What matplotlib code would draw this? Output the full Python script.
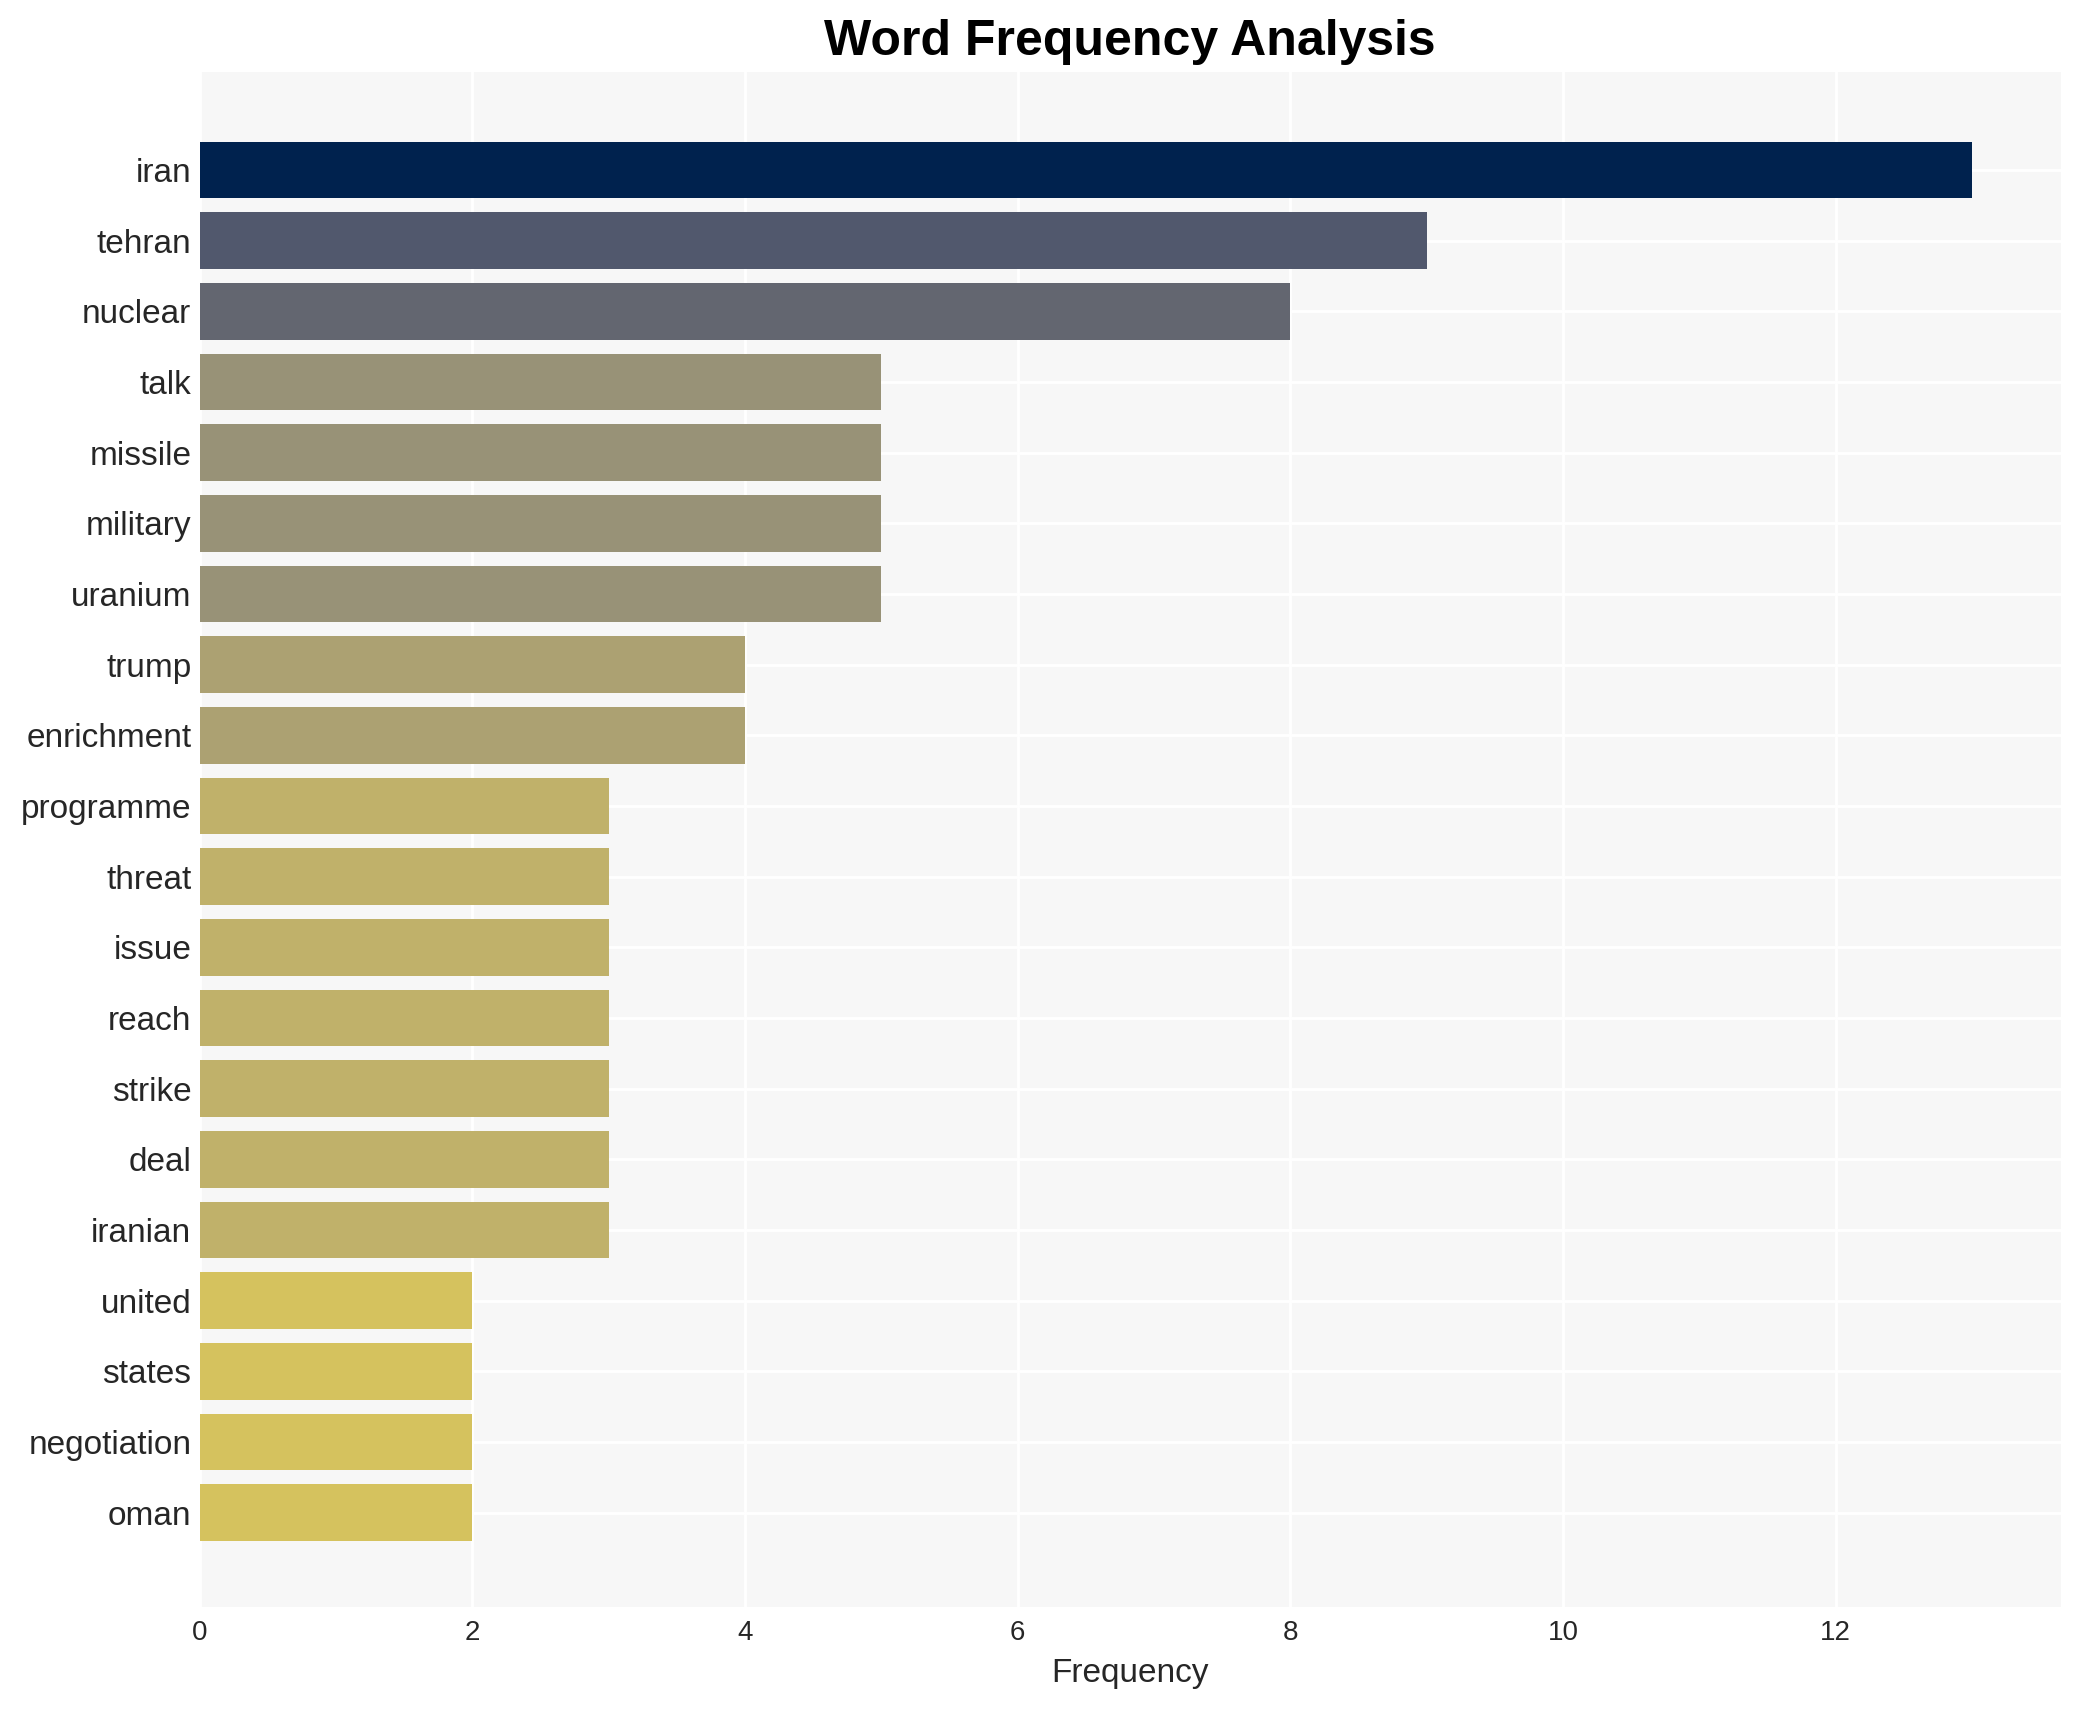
import matplotlib
matplotlib.use("Agg")
import matplotlib.pyplot as plt
import numpy as np

words = ["iran", "tehran", "nuclear", "talk", "missile", "military", "uranium",
         "trump", "enrichment", "programme", "threat", "issue", "reach", "strike",
         "deal", "iranian", "united", "states", "negotiation", "oman"]
counts = [13, 9, 8, 5, 5, 5, 5, 4, 4, 3, 3, 3, 3, 3, 3, 3, 2, 2, 2, 2]

plt.rcParams['font.family'] = ['Liberation Sans', 'DejaVu Sans']

fig = plt.figure(figsize=(10.4, 8.55), dpi=200)
ax = fig.add_axes([0.096, 0.0605, 0.8947, 0.8975])
ax.set_facecolor('#f7f7f7')

vals = np.array(counts, dtype=float)
colors = plt.cm.cividis(1 - vals / vals.max())
y = np.arange(len(words))
ax.barh(y, vals, height=0.8, color=colors, zorder=3)

ax.set_yticks(y)
ax.set_yticklabels(words)
ax.set_ylim(len(words) - 1 + 1.33, -1.39)
ax.set_xlim(0, vals.max() * 1.05)
ax.set_xticks([0, 2, 4, 6, 8, 10, 12])

ax.grid(True, color='white', linewidth=1.0, zorder=0)
ax.set_axisbelow(True)
for s in ax.spines.values():
    s.set_visible(False)
ax.tick_params(axis='both', length=0, labelsize=12, colors='#262626', pad=5)
ax.tick_params(axis='y', pad=3)
ax.tick_params(axis='x', labelsize=10)
ax.set_xlabel('Frequency', fontsize=12, color='#262626')
ax.set_title('Word Frequency Analysis', fontsize=18, fontweight='bold', pad=6)

fig.savefig('out.png', dpi=200)
